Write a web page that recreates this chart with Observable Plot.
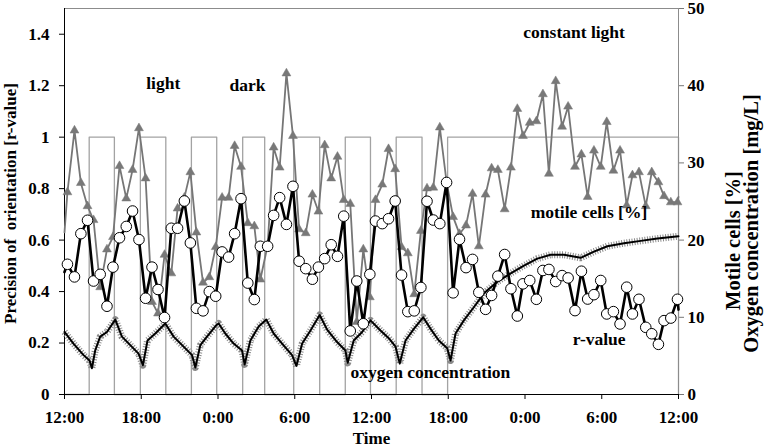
<!DOCTYPE html>
<html>
<head>
<meta charset="utf-8">
<script src="https://cdn.jsdelivr.net/npm/d3@7"></script>
<script src="https://cdn.jsdelivr.net/npm/@observablehq/plot@0.6"></script>
<style>
  html, body { margin: 0; padding: 0; background: #fff; }
  #chart svg { display: block; }
</style>
</head>
<body>
<div id="chart"></div>
<script>
// ---- data (hours after 12:00 on day 1) ----
const hours = [0, 0.23,0.78,1.28,1.80,2.27,2.79,3.32,3.79,4.30,4.83,5.32,5.82,6.34,6.84,7.31,7.82,8.35,8.84,9.37,9.84,10.31,10.83,11.32,11.82,12.32,12.83,13.30,13.80,14.33,14.84,15.31,15.88,16.35,16.82,17.35,17.86,18.34,18.86,19.38,19.85,20.34,20.85,21.34,21.83,22.34,22.85,23.36,23.87,24.31,24.84,25.33,25.85,26.35,26.84,27.34,27.86,28.34,28.83,29.34,29.87,30.38,30.88,31.39,31.90,32.39,32.92,33.39,33.88,34.41,34.90,35.40,35.84,36.37,36.89,37.40,37.87,38.40,38.90,39.37,39.91,40.41,40.90,41.39,41.92,42.39,42.91,43.43,43.95,44.40,44.91,45.44,45.91,46.43,46.87,47.40,47.92, 48];

const rValue = [0.476, 0.506,0.457,0.625,0.677,0.441,0.467,0.343,0.495,0.609,0.653,0.713,0.602,0.374,0.495,0.408,0.299,0.646,0.646,0.752,0.589,0.335,0.325,0.400,0.382,0.554,0.534,0.625,0.761,0.433,0.369,0.576,0.576,0.696,0.765,0.661,0.809,0.518,0.489,0.448,0.495,0.528,0.582,0.537,0.693,0.247,0.441,0.275,0.467,0.674,0.664,0.683,0.752,0.464,0.322,0.325,0.416,0.751,0.678,0.664,0.824,0.395,0.603,0.493,0.525,0.397,0.331,0.385,0.460,0.544,0.411,0.305,0.430,0.443,0.370,0.482,0.486,0.439,0.462,0.453,0.326,0.479,0.371,0.388,0.443,0.313,0.322,0.274,0.417,0.313,0.370,0.261,0.236,0.195,0.287,0.297,0.370, 0.33];

const motile = [21.0, 26.2,34.2,27.4,24.4,22.6,13.9,18.8,20.4,29.6,25.4,29.1,34.5,28.0,12.0,10.5,18.1,15.7,24.1,25.5,28.8,21.0,14.5,15.2,19.1,25.5,25.5,32.2,29.5,22.2,21.8,14.9,19.3,32.0,29.4,41.6,33.5,21.4,20.9,25.9,23.7,32.3,28.0,30.8,25.2,24.7,9.4,18.8,12.6,25.2,27.2,31.8,29.2,19.1,18.3,13.0,21.2,26.7,26.8,34.6,27.5,23.0,20.8,21.9,26.0,19.2,25.9,29.3,29.1,24.0,29.4,37.0,33.5,35.2,35.4,38.9,28.6,40.6,34.7,37.3,29.5,31.1,25.6,31.6,29.5,35.3,29.0,31.6,24.5,28.4,28.8,24.4,28.8,27.5,25.7,24.9,24.9, 25.6];

const o2Hours = [0.00,0.70,1.49,1.96,2.14,2.40,2.79,3.32,3.97,4.49,5.14,5.79,6.13,6.49,7.10,7.88,8.53,9.31,9.97,10.23,10.62,11.14,11.87,12.05,12.57,13.22,13.88,14.08,14.53,15.18,15.78,16.35,17.01,17.79,18.13,18.58,19.23,19.95,20.53,21.31,21.96,22.14,22.61,23.27,23.92,24.70,25.35,25.88,26.21,26.66,27.31,28.04,28.62,29.26,29.92,30.18,30.57,31.22,32.00,32.79,33.83,34.88,35.92,36.96,38.00,39.05,40.35,41.39,42.44,43.74,45.05,46.35,48.00];
const o2Conc = [8.1,6.6,5.1,4.4,3.4,5.7,7.5,8.1,9.7,7.5,6.4,5.3,3.8,7.0,7.9,9.2,7.5,6.2,5.1,3.5,6.4,7.5,9.0,9.2,7.9,6.6,5.7,3.9,7.0,8.8,9.7,7.9,6.6,5.1,3.7,6.6,8.3,10.3,8.4,6.8,5.7,4.1,7.0,8.1,9.6,8.3,7.3,6.2,4.0,7.0,8.5,10.0,8.5,7.0,6.0,4.4,7.9,9.6,11.3,13.1,14.6,15.7,16.7,17.6,18.1,18.1,17.7,18.5,19.2,19.6,19.9,20.2,20.5];

const lightOn  = [1.93, 5.93, 9.92, 13.93, 17.92, 21.95, 25.93, 29.95];
const lightOff = [3.90, 7.92, 11.90, 15.65, 19.95, 23.92, 27.95, 48];

const xTicks = [0, 6, 12, 18, 24, 30, 36, 42, 48];
const xTickLabels = ["12:00","18:00","0:00","6:00","12:00","18:00","0:00","6:00","12:00"];
const leftTicks = [0, 0.2, 0.4, 0.6, 0.8, 1.0, 1.2, 1.4];
const rightTicks = [0, 10, 20, 30, 40, 50];

// ---- derived tables ----
const K = 1.5 / 50; // right-axis unit -> left-axis unit
const series = hours.map((h, i) => ({h, r: rValue[i], m: motile[i], marker: i > 0 && i < hours.length - 1}));
const markers = series.filter(d => d.marker);
const o2 = o2Hours.map((h, i) => ({h, v: o2Conc[i]}));
const wave = [{h: 0, v: 0}];
lightOn.forEach((on, i) => {
  wave.push({h: on, v: 0}, {h: on, v: 1}, {h: lightOff[i], v: 1}, {h: lightOff[i], v: 0});
});
wave.push({h: 48, v: 0});

const annotations = [
  {h: 7.72, y: 1.187, t: "light"},
  {h: 14.3, y: 1.179, t: "dark"},
  {h: 39.84, y: 1.387, t: "constant light"},
  {h: 41.0, y: 0.684, t: "motile cells [%]"},
  {h: 41.8, y: 0.191, t: "r-value"},
  {h: 28.6, y: 0.063, t: "oxygen concentration"}
];

const chart = Plot.plot({
  width: 765,
  height: 447,
  marginLeft: 64,
  marginRight: 87,
  marginTop: 8,
  marginBottom: 53,
  style: {fontFamily: "'Liberation Serif', 'Times New Roman', serif", fontSize: "17px", fontWeight: "bold", background: "white", color: "black"},
  x: {domain: [0, 48]},
  y: {domain: [0, 1.5]},
  marks: [
    Plot.line(wave, {x: "h", y: "v", stroke: "#a3a3a3", strokeWidth: 1.3}),
    Plot.frame({stroke: "#8c8c8c", strokeWidth: 1}),
    Plot.ruleX([0], {stroke: "black", strokeWidth: 1}),
    Plot.ruleY([0], {stroke: "black", strokeWidth: 1}),
    // oxygen concentration (right axis)
    Plot.line(o2, {x: "h", y: d => d.v * K, stroke: "#8a8a8a", strokeWidth: 7, strokeDasharray: "1,1.6", strokeLinecap: "butt"}),
    Plot.line(o2, {x: "h", y: d => d.v * K, stroke: "black", strokeWidth: 2}),
    // motile cells (right axis)
    Plot.line(series, {x: "h", y: d => d.m * K, stroke: "#767676", strokeWidth: 1.8}),
    Plot.dot(markers, {x: "h", y: d => d.m * K, symbol: "triangle", r: 3.3, fill: "#787878", stroke: "#787878", strokeWidth: 0.5}),
    // r-value (left axis)
    Plot.line(series, {x: "h", y: "r", stroke: "black", strokeWidth: 2.6}),
    Plot.dot(markers, {x: "h", y: "r", r: 5.3, fill: "white", stroke: "black", strokeWidth: 1}),
    // axes
    Plot.axisX({ticks: xTicks, tickFormat: d => xTickLabels[xTicks.indexOf(d)], tickSize: 5, tickPadding: 11, label: null, stroke: "black", fill: "black"}),
    Plot.axisY({ticks: leftTicks, tickFormat: d => String(+d.toFixed(1)), anchor: "left", tickSize: 5, tickPadding: 10, label: null, stroke: "black", fill: "black"}),
    Plot.axisY({ticks: rightTicks.map(v => v * K), tickFormat: d => String(Math.round(d / K)), anchor: "right", tickSize: 5, tickPadding: 4, label: null, stroke: "#777", fill: "black"}),
    // axis titles
    Plot.text(["Time"], {frameAnchor: "bottom", dy: 49, lineAnchor: "bottom", textAnchor: "middle", fontSize: 17}),
    Plot.text(["Precision of  orientation [r-value]"], {frameAnchor: "left", dx: -49, dy: 2, rotate: -90, lineAnchor: "bottom", textAnchor: "middle", fontSize: 17}),
    Plot.text(["Motile cells [%]"], {frameAnchor: "right", dx: 61, dy: 39, rotate: -90, lineAnchor: "bottom", textAnchor: "middle", fontSize: 20.5}),
    Plot.text(["Oxygen concentration [mg/L]"], {frameAnchor: "right", dx: 79, dy: 22, rotate: -90, lineAnchor: "bottom", textAnchor: "middle", fontSize: 20.5}),
    // in-plot labels
    Plot.text(annotations, {x: "h", y: "y", text: "t", lineAnchor: "bottom", textAnchor: "middle", fontSize: 17.5})
  ]
});
document.getElementById("chart").appendChild(chart);
</script>
</body>
</html>
